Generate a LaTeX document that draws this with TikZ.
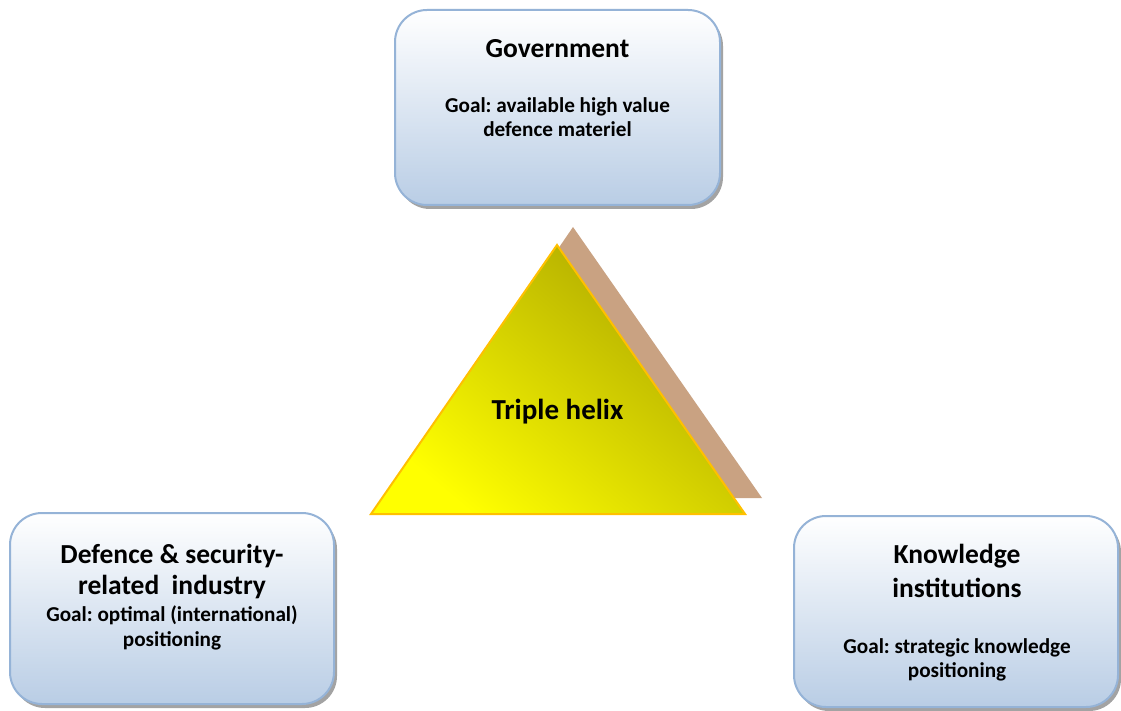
\documentclass[tikz,border=0pt]{standalone}
\usepackage{fontspec}
\setmainfont{Carlito}
\usetikzlibrary{shadows}
\definecolor{boxline}{HTML}{95B3D7}
\definecolor{boxbot}{HTML}{B9CDE5}
\definecolor{shadowbrown}{HTML}{C9A282}
\definecolor{triline}{HTML}{FFC000}
\definecolor{olive}{HTML}{ACA600}
\definecolor{yel}{HTML}{FFFF00}
\frenchspacing
\begin{document}
\begin{tikzpicture}[x=1pt,y=-1pt,
  boxstyle/.style={draw=boxline, line width=2pt, rounded corners=32pt,
    top color=white, bottom color=boxbot, inner sep=0pt,
    drop shadow={shadow xshift=3pt, shadow yshift=-4pt, fill=black!45, opacity=0.8}},
  titletext/.style={anchor=base, font=\fontsize{27.5}{32}\selectfont\bfseries, inner sep=0pt},
  goaltext/.style={anchor=base, font=\fontsize{21.2}{25}\selectfont\bfseries, inner sep=0pt}
]
\useasboundingbox (0,0) rectangle (1121,711);
\fill[white] (0,0) rectangle (1121,711);

% boxes
\node[boxstyle, minimum width=325pt, minimum height=195pt] (gov) at (557.5,107.5) {};
\node[boxstyle, minimum width=324pt, minimum height=191pt] (ind) at (172,608.5) {};
\node[boxstyle, minimum width=324pt, minimum height=191pt] (kno) at (956,611.5) {};

% triangle shadow and triangle
\fill[shadowbrown] (573,227) -- (762,498) -- (388,498) -- cycle;
\coordinate (tA) at (557,245);
\coordinate (tB) at (371,514);
\coordinate (tC) at (745,514);
\path[top color=olive, bottom color=yel, shading angle=-40]
  (tA) -- (tC) -- (tB) -- cycle;
\draw[triline, line width=2pt, line join=miter] (tA) -- (tC) -- (tB) -- cycle;

% texts
\node[titletext] (govt) at (557.5,58) {Government};
\node[goaltext] (govg1) at (557.5,113) {Goal: available high value};
\node[goaltext] (govg2) at (557.5,137) {defence materiel};

\node[titletext] (indt1) at (172,563) {Defence \& security-};
\node[titletext] (indt2) at (172,594) {related\ \ industry};
\node[goaltext] (indg1) at (172,621) {Goal: optimal (international)};
\node[goaltext] (indg2) at (172,646) {positioning};

\node[titletext] (knot1) at (957,563) {Knowledge};
\node[titletext] (knot2) at (957,597) {institutions};
\node[goaltext] (knog1) at (957,653) {Goal: strategic knowledge};
\node[goaltext] (knog2) at (957,677) {positioning};

\node[titletext, font=\fontsize{29}{33}\selectfont\bfseries] (helix) at (557.5,419) {Triple helix};
\end{tikzpicture}
\end{document}
